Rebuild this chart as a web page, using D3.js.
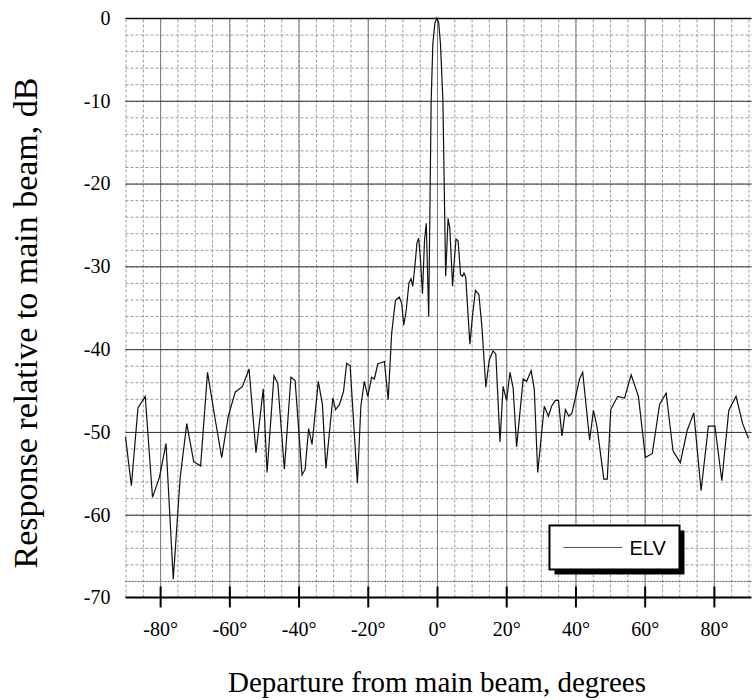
<!DOCTYPE html>
<html>
<head>
<meta charset="utf-8">
<script src="https://cdn.jsdelivr.net/npm/d3@7"></script>
<style>
  body { margin: 0; background: #fff; }
  svg { display: block; }
  .tick-label text { font-family: "Liberation Serif", "Times New Roman", serif; font-size: 20px; fill: #000; }
  .title { font-family: "Liberation Serif", "Times New Roman", serif; fill: #000; }
  .legend text { font-family: "Liberation Sans", Arial, sans-serif; font-size: 20px; fill: #000; }
</style>
</head>
<body>
<svg id="chart" width="752" height="700"></svg>
<script>
// departure angle, degrees
var angles = [
  -90, -88.3, -86.4, -84.3, -82.2, -80.2, -78.3, -76.2, -74.2, -72.3,
  -70.3, -68.3, -66.3, -64.2, -62.2, -60.3, -58.3, -56.2, -54.3, -52.3,
  -50.2, -49.1, -47.1, -46.0, -44.1, -42.2, -41.0, -39.0, -38.1, -37.1,
  -36.1, -34.3, -33.1, -32.1, -30.1, -29.3, -28.2, -27.0, -26.1, -25.1,
  -23.0, -22.0, -21.0, -20.0, -18.9, -18.1, -17.1, -15.2, -14.1, -13.1,
  -12.0, -10.9, -10.2, -9.6, -8.9, -8.1, -7.5, -7.0, -6.3, -5.8,
  -5.3, -4.8, -4.2, -3.6, -3.1, -2.4, -1.7, -1.2, -0.6, 0,
  0.5, 1.0, 1.7, 2.5, 3.2, 3.7, 4.5, 4.9, 5.5, 6.1,
  6.8, 7.4, 7.8, 8.3, 9.5, 10.3, 11.1, 12.1, 13.0, 14.1,
  15.1, 16.2, 17.0, 18.2, 19.1, 20.1, 21.1, 22.0, 23.0, 24.9,
  25.9, 27.2, 28.1, 29.1, 31.0, 32.2, 33.1, 34.2, 35.1, 36.1,
  37.1, 38.1, 39.0, 41.2, 42.1, 44.1, 45.2, 46.2, 48.2, 49.2,
  50.2, 52.2, 54.2, 56.1, 58.2, 60.2, 62.2, 64.3, 66.2, 68.2,
  70.3, 72.3, 74.2, 76.3, 78.4, 80.3, 82.3, 84.3, 86.4, 88.3,
  90
];
// ELV response relative to main beam, dB
var elvResponse = [
  -50.6, -56.5, -47.1, -45.7, -57.9, -55.5, -51.4, -67.8, -55.5, -49.0,
  -53.6, -54.1, -42.8, -48.2, -53.1, -48.1, -45.2, -44.5, -42.4, -52.5,
  -44.8, -54.9, -43.2, -44.1, -54.5, -43.4, -43.8, -55.2, -54.5, -49.6,
  -51.5, -43.9, -46.7, -54.4, -45.9, -47.3, -46.7, -45.1, -41.7, -42.0,
  -56.2, -46.9, -43.9, -45.7, -43.4, -43.6, -41.8, -41.5, -46.1, -38.1,
  -34.1, -33.7, -34.5, -37.1, -35.3, -32.0, -31.5, -32.4, -29.6, -27.2,
  -26.6, -29.0, -33.3, -26.8, -24.8, -36.1, -10.3, -3.1, -0.6, 0,
  -0.6, -3.1, -9.9, -31.2, -24.2, -25.4, -32.4, -29.8, -26.7, -26.9,
  -31.0, -31.2, -30.8, -31.3, -39.4, -35.8, -32.9, -33.4, -37.4, -44.6,
  -41.3, -40.2, -40.6, -51.2, -44.5, -46.2, -42.8, -44.7, -51.8, -43.6,
  -43.9, -42.6, -44.8, -54.9, -46.9, -48.1, -46.9, -46.2, -46.2, -50.5,
  -47.3, -48.1, -47.7, -43.6, -42.8, -51.0, -47.4, -49.3, -55.7, -55.7,
  -47.3, -45.7, -45.9, -43.1, -45.7, -53.1, -52.6, -46.7, -45.3, -52.3,
  -53.7, -49.8, -47.7, -57.1, -49.3, -49.3, -55.9, -47.4, -45.7, -49.0,
  -50.8
];
var seriesName = 'ELV';
var xTickValues = [-80, -60, -40, -20, 0, 20, 40, 60, 80];
var yTickValues = [0, -10, -20, -30, -40, -50, -60, -70];
var xMinorValues = d3.range(-90, 91, 5);
var yMinorValues = d3.range(-68, 0, 2);

var margins = { top: 18, left: 125.5, right: 3.5, bottom: 102.5 };
var svg = d3.select('#chart');
var width = +svg.attr('width');
var height = +svg.attr('height');
var plotW = width - margins.left - margins.right;
var plotH = height - margins.top - margins.bottom;

var x = d3.scaleLinear().domain([-90, 90]).range([0, plotW]);
var y = d3.scaleLinear().domain([-70, 0]).range([plotH, 0]);

var plot = svg.append('g')
  .attr('transform', 'translate(' + margins.left + ',' + margins.top + ')');

drawGrid();
drawLine();
drawAxes();
drawLegend();
drawTitles();

function drawGrid() {
  var grid = plot.append('g').attr('class', 'grid');

  // minor, dashed
  grid.append('g')
    .call(d3.axisBottom(x).tickValues(xMinorValues).tickSize(-plotH).tickFormat(''))
    .attr('transform', 'translate(0,' + plotH + ')')
    .call(function (g) { g.select('.domain').remove(); })
    .selectAll('line')
    .attr('stroke', '#9a9a9a')
    .attr('stroke-dasharray', '3,2');

  grid.append('g')
    .call(d3.axisLeft(y).tickValues(yMinorValues).tickSize(-(plotW + 3)).tickFormat(''))
    .call(function (g) { g.select('.domain').remove(); })
    .selectAll('line')
    .attr('stroke', function (d) { return d === -68 ? '#555' : '#9a9a9a'; })
    .attr('stroke-dasharray', function (d) { return d === -68 ? '2,1' : '3,2'; });

  // major
  grid.append('g')
    .call(d3.axisBottom(x).tickValues(xTickValues).tickSize(-plotH).tickFormat(''))
    .attr('transform', 'translate(0,' + plotH + ')')
    .call(function (g) { g.select('.domain').remove(); })
    .selectAll('line')
    .attr('stroke', '#7a7a7a');

  grid.append('g')
    .call(d3.axisLeft(y).tickValues(yTickValues.filter(function (d) { return d > -70; }))
      .tickSize(-(plotW + 3)).tickFormat(''))
    .call(function (g) { g.select('.domain').remove(); })
    .selectAll('line')
    .attr('stroke', function (d) { return d === 0 ? '#111' : '#333'; })
    .attr('stroke-width', function (d) { return d === 0 ? 1.5 : 1; });
}

function drawLine() {
  var points = angles.map(function (a, i) { return [a, elvResponse[i]]; });
  var line = d3.line()
    .x(function (d) { return x(d[0]); })
    .y(function (d) { return y(d[1]); });

  plot.append('path')
    .datum(points)
    .attr('class', 'elv')
    .attr('fill', 'none')
    .attr('stroke', '#111')
    .attr('stroke-width', 1.2)
    .attr('d', line);
}

function drawAxes() {
  var xAxis = plot.append('g')
    .attr('class', 'tick-label')
    .attr('transform', 'translate(0,' + plotH + ')')
    .call(d3.axisBottom(x).tickValues(xTickValues).tickSize(10).tickPadding(14)
      .tickFormat(function (d) { return d + '°'; }));
  xAxis.select('.domain').remove();
  xAxis.selectAll('.tick line')
    .attr('y1', -11)
    .attr('stroke', '#000')
    .attr('stroke-width', 2);
  xAxis.selectAll('.tick text').attr('font-size', null).attr('font-family', null);

  // bottom axis line
  plot.append('line')
    .attr('x1', 0)
    .attr('x2', plotW + 3)
    .attr('y1', plotH)
    .attr('y2', plotH)
    .attr('stroke', '#000')
    .attr('stroke-width', 2);

  // plain hyphen for negatives, like the original
  var yAxis = plot.append('g')
    .attr('class', 'tick-label')
    .call(d3.axisLeft(y).tickValues(yTickValues).tickSize(0).tickPadding(15)
      .tickFormat(function (d) { return String(d); }));
  yAxis.select('.domain').remove();
  yAxis.selectAll('.tick text').attr('font-size', null).attr('font-family', null);
}

function drawLegend() {
  var lx = x(32.5), ly = y(-61.3);
  var lw = 130, lh = 44;
  var legend = plot.append('g')
    .attr('class', 'legend')
    .attr('transform', 'translate(' + lx + ',' + ly + ')');

  legend.append('rect')
    .attr('x', 5).attr('y', 5)
    .attr('width', lw).attr('height', lh)
    .attr('fill', '#000');
  legend.append('rect')
    .attr('width', lw).attr('height', lh)
    .attr('fill', '#fff')
    .attr('stroke', '#000')
    .attr('stroke-width', 2);
  legend.append('line')
    .attr('x1', 14).attr('x2', 73)
    .attr('y1', 22).attr('y2', 22)
    .attr('stroke', '#555')
    .attr('stroke-width', 1);
  legend.append('text')
    .attr('x', 80)
    .attr('y', 30)
    .text(seriesName);
}

function drawTitles() {
  svg.append('text')
    .attr('class', 'title')
    .attr('x', margins.left + x(0))
    .attr('y', 692)
    .attr('text-anchor', 'middle')
    .attr('font-size', 29)
    .text('Departure from main beam, degrees');

  svg.append('text')
    .attr('class', 'title')
    .attr('transform', 'translate(37,323) rotate(-90)')
    .attr('text-anchor', 'middle')
    .attr('font-size', 34)
    .text('Response relative to main beam, dB');
}
</script>
</body>
</html>
